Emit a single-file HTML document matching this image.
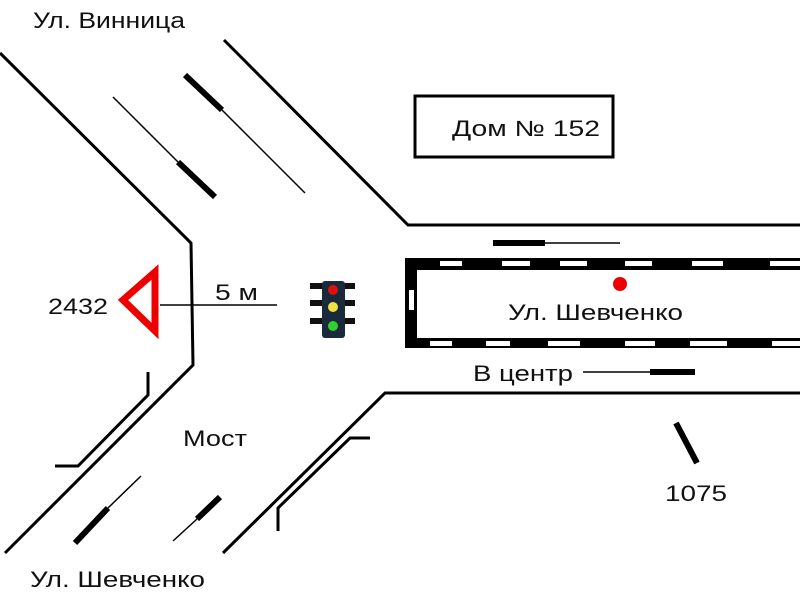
<!DOCTYPE html>
<html><head><meta charset="utf-8"><style>
html,body{margin:0;padding:0;background:#fff;}
svg{display:block;}
text{font-family:"Liberation Sans","DejaVu Sans",sans-serif;font-size:22px;fill:#111;}
</style></head><body>
<svg width="800" height="600" viewBox="0 0 800 600">
<g stroke="#000" fill="none" stroke-width="3">
<polyline points="0,53 191,243 193,365 5,553"/>
<polyline points="224,40 408,225 800,225"/>
<polyline points="800,393 385,393 223,553"/>
<polyline points="148,372 148,395 78,466 55,466"/>
<polyline points="370,438 350,438 278,508 278,531"/>
</g>
<g stroke="#000">
<line x1="113" y1="97" x2="178" y2="162" stroke-width="1.5"/>
<line x1="178" y1="162" x2="215" y2="197" stroke-width="6"/>
<line x1="185" y1="75" x2="222" y2="110" stroke-width="6"/>
<line x1="222" y1="110" x2="305" y2="193" stroke-width="1.5"/>
<line x1="141" y1="476" x2="108" y2="508" stroke-width="1.5"/>
<line x1="108" y1="508" x2="75" y2="543" stroke-width="6"/>
<line x1="173" y1="541" x2="197" y2="519" stroke-width="1.5"/>
<line x1="197" y1="519" x2="220" y2="497" stroke-width="6"/>
<line x1="493" y1="243" x2="545" y2="243" stroke-width="6"/>
<line x1="545" y1="243" x2="620" y2="243" stroke-width="1.5"/>
<line x1="583" y1="372" x2="650" y2="372" stroke-width="1.5"/>
<line x1="650" y1="372" x2="695" y2="372" stroke-width="6"/>
<line x1="676" y1="423" x2="697" y2="463" stroke-width="6"/>
<line x1="160" y1="305" x2="277" y2="305" stroke-width="1.5"/>
</g>
<path d="M800,258 H405 V348 H800 V338 H417 V270 H800 Z" fill="#000"/>
<g fill="#fff">
<rect x="440" y="261" width="22" height="5"/><rect x="502" y="261" width="28" height="5"/>
<rect x="560" y="261" width="27" height="5"/><rect x="625" y="261" width="27" height="5"/>
<rect x="692" y="261" width="31" height="5"/><rect x="770" y="261" width="30" height="5"/>
<rect x="430" y="341" width="22" height="5"/><rect x="486" y="341" width="24" height="5"/>
<rect x="548" y="341" width="32" height="5"/><rect x="625" y="341" width="30" height="5"/>
<rect x="690" y="341" width="37" height="5"/><rect x="772" y="341" width="28" height="5"/>
<rect x="409" y="290" width="5" height="20"/>
</g>
<circle cx="620" cy="284" r="7" fill="#e00"/>
<rect x="415" y="96" width="198" height="61" fill="none" stroke="#000" stroke-width="3"/>
<polygon points="155,272 155,331 123,300" fill="none" stroke="#e00" stroke-width="7" stroke-linejoin="miter"/>
<g>
<rect x="310" y="283" width="45" height="6" fill="#111"/>
<rect x="310" y="300" width="45" height="6" fill="#111"/>
<rect x="310" y="318" width="45" height="6" fill="#111"/>
<rect x="322" y="281" width="23" height="57" rx="3" fill="#1a2a3a"/>
<circle cx="333" cy="290" r="5" fill="#e01010"/>
<circle cx="333" cy="307" r="5" fill="#f0e040"/>
<circle cx="333" cy="326" r="5" fill="#30d030"/>
</g>
<text x="33" y="28" textLength="152" lengthAdjust="spacingAndGlyphs">Ул. Винница</text>
<text x="452" y="136" textLength="148" lengthAdjust="spacingAndGlyphs">Дом № 152</text>
<text x="508" y="320" textLength="175" lengthAdjust="spacingAndGlyphs">Ул. Шевченко</text>
<text x="473" y="381" textLength="100" lengthAdjust="spacingAndGlyphs">В центр</text>
<text x="48" y="314" textLength="60" lengthAdjust="spacingAndGlyphs">2432</text>
<text x="215" y="300" textLength="43" lengthAdjust="spacingAndGlyphs">5 м</text>
<text x="183" y="446" textLength="64" lengthAdjust="spacingAndGlyphs">Мост</text>
<text x="30" y="587" textLength="175" lengthAdjust="spacingAndGlyphs">Ул. Шевченко</text>
<text x="665" y="501" textLength="62" lengthAdjust="spacingAndGlyphs">1075</text>
</svg>
</body></html>
